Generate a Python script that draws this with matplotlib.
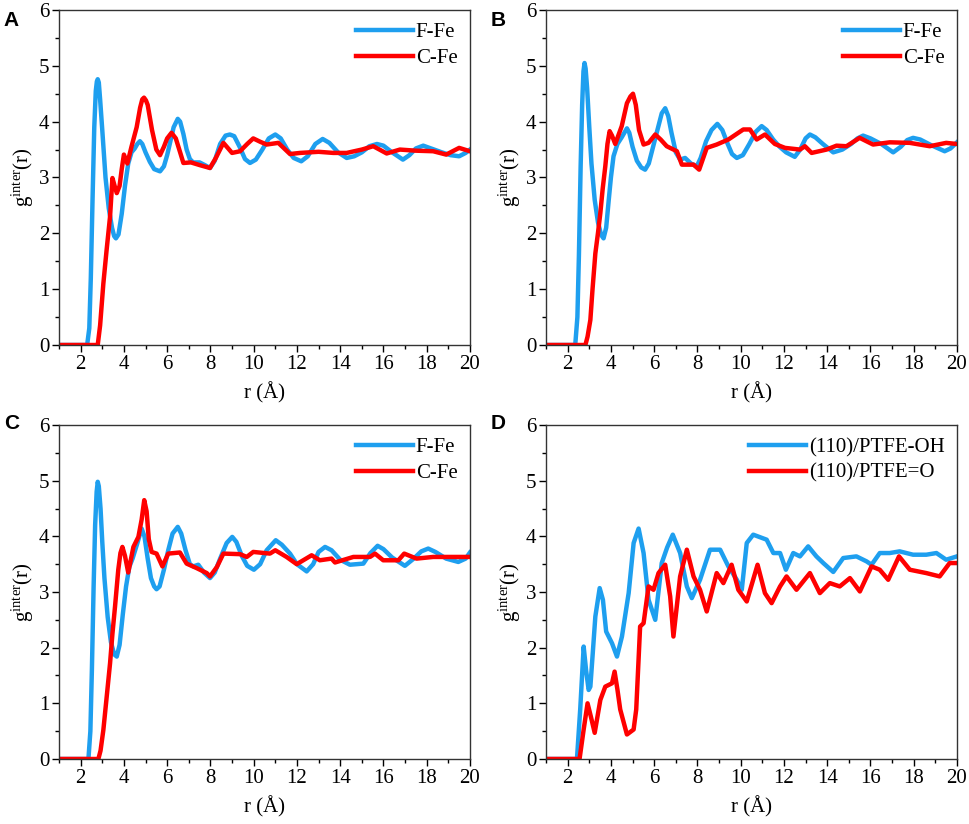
import matplotlib
matplotlib.use("Agg")
import matplotlib.pyplot as plt
from matplotlib.ticker import MultipleLocator

plt.rcParams['font.family'] = ['Liberation Serif', 'DejaVu Serif']
plt.rcParams['mathtext.fontset'] = 'custom'
plt.rcParams['mathtext.rm'] = 'Liberation Serif'
plt.rcParams['mathtext.it'] = 'Liberation Serif:italic'

BLUE = '#1E9FEF'
RED = '#FF0000'

# ---------------- Panel A ----------------
a_ffe_r = [1.0, 2.3, 2.4, 2.47, 2.55, 2.63, 2.7, 2.75, 2.79, 2.84, 2.9, 3.0, 3.15, 3.3, 3.45, 3.55, 3.63,
           3.75, 3.9, 4.05, 4.2, 4.35, 4.5, 4.62, 4.74, 4.85, 5.0, 5.2, 5.4, 5.67, 5.85, 6.0, 6.15, 6.3,
           6.49, 6.6, 6.75, 6.9, 7.05, 7.2, 7.5, 7.75, 7.98, 8.2, 8.45, 8.7, 8.9, 9.1, 9.35, 9.6, 9.83,
           10.1, 10.4, 10.7, 11.0, 11.25, 11.55, 11.85, 12.2, 12.5, 12.85, 13.19, 13.5, 13.9, 14.3, 14.65,
           15.0, 15.35, 15.7, 16.0, 16.4, 16.9, 17.2, 17.5, 17.84, 18.2, 18.7, 19.1, 19.5, 19.8, 20.0]
a_ffe_g = [0.0, 0.0, 0.3, 1.2, 2.6, 3.9, 4.55, 4.72, 4.76, 4.7, 4.4, 3.85, 3.0, 2.45, 2.1, 1.95, 1.91,
           1.98, 2.35, 2.85, 3.25, 3.45, 3.52, 3.6, 3.65, 3.6, 3.45, 3.28, 3.15, 3.11, 3.2, 3.4, 3.65,
           3.9, 4.05, 4.0, 3.78, 3.5, 3.33, 3.27, 3.27, 3.22, 3.17, 3.3, 3.6, 3.75, 3.77, 3.74, 3.55,
           3.33, 3.26, 3.32, 3.5, 3.7, 3.77, 3.7, 3.5, 3.35, 3.29, 3.38, 3.6, 3.69, 3.62, 3.45, 3.35,
           3.38, 3.45, 3.56, 3.6, 3.57, 3.45, 3.32, 3.4, 3.52, 3.57, 3.52, 3.45, 3.4, 3.38, 3.44, 3.5]
a_cfe_r = [1.0, 2.79, 2.9, 3.05, 3.2, 3.36, 3.47, 3.57, 3.67, 3.8, 3.9, 4.0, 4.16, 4.35, 4.59, 4.75, 4.85,
           4.93, 5.02, 5.1, 5.3, 5.5, 5.67, 5.85, 6.0, 6.2, 6.4, 6.6, 6.75, 7.1, 7.52, 7.98, 8.25, 8.6,
           9.0, 9.37, 9.7, 9.98, 10.3, 10.6, 11.14, 11.68, 12.14, 13.0, 13.68, 14.3, 15.0, 15.53, 16.15,
           16.76, 17.5, 18.3, 18.9, 19.5, 20.0]
a_cfe_g = [0.0, 0.0, 0.35, 1.1, 1.7, 2.3, 2.99, 2.85, 2.72, 2.85, 3.15, 3.41, 3.25, 3.55, 3.9, 4.25, 4.4,
           4.43, 4.38, 4.3, 3.85, 3.5, 3.4, 3.55, 3.7, 3.8, 3.7, 3.45, 3.26, 3.27, 3.22, 3.17, 3.35,
           3.62, 3.44, 3.47, 3.6, 3.7, 3.64, 3.59, 3.62, 3.42, 3.44, 3.46, 3.44, 3.44, 3.5, 3.56, 3.43,
           3.5, 3.48, 3.47, 3.41, 3.53, 3.47]

# ---------------- Panel B ----------------
b_ffe_r = [1.0, 2.35, 2.45, 2.52, 2.6, 2.67, 2.73, 2.78, 2.83, 2.9, 3.0, 3.1, 3.25, 3.4, 3.55, 3.66, 3.78,
           3.9, 4.0, 4.12, 4.3, 4.5, 4.74, 4.85, 5.0, 5.2, 5.4, 5.58, 5.75, 5.95, 6.15, 6.35, 6.51, 6.65,
           6.8, 7.0, 7.2, 7.43, 7.7, 7.97, 8.15, 8.4, 8.65, 8.92, 9.15, 9.4, 9.6, 9.82, 10.1, 10.4, 10.7,
           10.97, 11.2, 11.5, 11.8, 12.1, 12.5, 12.75, 13.0, 13.2, 13.45, 13.8, 14.28, 14.7, 15.1, 15.4,
           15.66, 16.0, 16.5, 17.05, 17.4, 17.7, 17.97, 18.3, 18.8, 19.43, 19.7, 20.0]
b_ffe_g = [0.0, 0.0, 0.5, 1.6, 3.2, 4.3, 4.9, 5.05, 4.95, 4.6, 3.9, 3.25, 2.6, 2.2, 1.97, 1.91, 2.1,
           2.6, 3.0, 3.38, 3.6, 3.72, 3.88, 3.8, 3.55, 3.3, 3.18, 3.14, 3.25, 3.55, 3.85, 4.15, 4.24, 4.1,
           3.8, 3.45, 3.32, 3.35, 3.25, 3.2, 3.35, 3.65, 3.85, 3.96, 3.85, 3.6, 3.42, 3.35, 3.4, 3.6,
           3.82, 3.92, 3.85, 3.68, 3.55, 3.45, 3.37, 3.5, 3.7, 3.77, 3.72, 3.6, 3.45, 3.5, 3.6, 3.7,
           3.75, 3.7, 3.6, 3.45, 3.55, 3.67, 3.71, 3.68, 3.58, 3.47, 3.52, 3.63]
b_cfe_r = [1.0, 2.82, 2.92, 3.05, 3.15, 3.28, 3.4, 3.51, 3.62, 3.74, 3.84, 3.94, 4.05, 4.2, 4.5, 4.74,
           4.9, 5.02, 5.15, 5.3, 5.51, 5.74, 6.05, 6.3, 6.58, 7.05, 7.28, 7.82, 8.08, 8.43, 8.89, 9.43,
           10.12, 10.43, 10.74, 11.12, 11.58, 12.05, 12.74, 12.97, 13.28, 13.97, 14.43, 14.89, 15.5,
           16.12, 16.89, 17.82, 18.74, 19.5, 20.0]
b_cfe_g = [0.0, 0.0, 0.15, 0.45, 1.0, 1.64, 2.0, 2.36, 2.8, 3.2, 3.6, 3.83, 3.75, 3.6, 3.92, 4.33,
           4.45, 4.5, 4.3, 3.85, 3.59, 3.62, 3.77, 3.68, 3.56, 3.47, 3.23, 3.23, 3.14, 3.53, 3.59, 3.68,
           3.86, 3.86, 3.68, 3.77, 3.6, 3.53, 3.5, 3.56, 3.44, 3.5, 3.57, 3.56, 3.71, 3.59, 3.63, 3.62,
           3.56, 3.62, 3.6]

# ---------------- Panel C ----------------
c_ffe_r = [1.0, 2.36, 2.45, 2.52, 2.6, 2.67, 2.74, 2.79, 2.84, 2.92, 3.0, 3.1, 3.25, 3.4, 3.55, 3.67,
           3.8, 3.95, 4.1, 4.25, 4.4, 4.6, 4.82, 4.95, 5.1, 5.25, 5.4, 5.51, 5.65, 5.85, 6.05, 6.25, 6.49,
           6.65, 6.85, 7.05, 7.21, 7.44, 7.7, 7.98, 8.2, 8.45, 8.75, 9.01, 9.2, 9.45, 9.7, 10.01, 10.3,
           10.6, 11.02, 11.3, 11.68, 12.0, 12.45, 12.75, 13.0, 13.3, 13.6, 14.0, 14.45, 15.07, 15.4,
           15.73, 16.0, 16.4, 16.99, 17.4, 17.75, 18.07, 18.4, 18.9, 19.46, 19.8, 20.0]
c_ffe_g = [0.0, 0.0, 0.5, 1.6, 3.1, 4.2, 4.8, 4.98, 4.9, 4.5, 3.9, 3.25, 2.55, 2.1, 1.88, 1.84, 2.05,
           2.6, 3.1, 3.45, 3.6, 3.85, 4.14, 4.0, 3.6, 3.25, 3.1, 3.05, 3.1, 3.4, 3.75, 4.05, 4.17, 4.05,
           3.75, 3.5, 3.46, 3.49, 3.35, 3.25, 3.35, 3.6, 3.88, 3.99, 3.9, 3.65, 3.47, 3.4, 3.5, 3.75,
           3.93, 3.85, 3.69, 3.5, 3.37, 3.5, 3.72, 3.81, 3.75, 3.58, 3.49, 3.51, 3.7, 3.83, 3.77, 3.62,
           3.47, 3.6, 3.73, 3.78, 3.72, 3.6, 3.54, 3.6, 3.71]
c_cfe_r = [1.0, 2.82, 2.92, 3.05, 3.2, 3.36, 3.47, 3.59, 3.74, 3.84, 3.93, 4.05, 4.2, 4.44, 4.67, 4.82,
           4.94, 5.05, 5.15, 5.28, 5.51, 5.78, 6.05, 6.59, 6.9, 7.36, 7.83, 7.98, 8.3, 8.6, 9.37, 9.68,
           9.98, 10.75, 11.0, 11.52, 11.99, 12.68, 13.06, 13.6, 13.76, 14.61, 15.38, 15.61, 15.99,
           16.69, 16.96, 17.53, 18.3, 19.07, 20.0]
c_cfe_g = [0.0, 0.0, 0.15, 0.52, 1.1, 1.72, 2.25, 2.74, 3.4, 3.7, 3.81, 3.65, 3.35, 3.81, 3.99, 4.3,
           4.65, 4.45, 3.95, 3.72, 3.69, 3.46, 3.69, 3.71, 3.51, 3.43, 3.34, 3.28, 3.45, 3.69, 3.68, 3.63,
           3.72, 3.69, 3.75, 3.63, 3.5, 3.66, 3.57, 3.6, 3.53, 3.63, 3.63, 3.69, 3.57, 3.57, 3.69, 3.6,
           3.63, 3.63, 3.63]

# ---------------- Panel D ----------------
d_oh_r = [1.0, 2.43, 2.58, 2.74, 2.85, 2.97, 3.05, 3.16, 3.28, 3.48, 3.63, 3.78, 4.05, 4.28, 4.51, 4.82,
          5.05, 5.28, 5.51, 5.74, 6.05, 6.35, 6.6, 6.86, 7.2, 7.51, 7.74, 8.12, 8.58, 9.05, 9.43, 9.82,
          10.05, 10.28, 10.58, 11.2, 11.51, 11.82, 12.09, 12.43, 12.74, 13.12, 13.5, 13.82, 14.28, 14.74,
          15.35, 15.82, 16.05, 16.43, 16.89, 17.35, 17.97, 18.58, 19.05, 19.5, 20.0]
d_oh_g = [0.0, 0.0, 0.89, 2.02, 1.6, 1.24, 1.3, 1.9, 2.56, 3.07, 2.86, 2.29, 2.08, 1.84, 2.2, 2.98,
          3.88, 4.14, 3.7, 2.86, 2.5, 3.52, 3.8, 4.03, 3.7, 3.1, 2.89, 3.22, 3.76, 3.76, 3.46, 3.22,
          3.04, 3.88, 4.03, 3.94, 3.7, 3.7, 3.4, 3.7, 3.64, 3.82, 3.64, 3.52, 3.36, 3.61, 3.64, 3.55,
          3.49, 3.7, 3.7, 3.73, 3.67, 3.67, 3.7, 3.58, 3.64]
d_o_r = [1.0, 2.55, 2.74, 2.92, 3.08, 3.25, 3.51, 3.74, 4.05, 4.17, 4.3, 4.43, 4.74, 5.05, 5.17, 5.35,
         5.51, 5.74, 5.97, 6.2, 6.51, 6.74, 6.89, 7.2, 7.51, 7.82, 8.12, 8.43, 8.89, 9.2, 9.58, 9.89,
         10.28, 10.78, 11.12, 11.43, 11.82, 12.12, 12.58, 13.2, 13.66, 14.12, 14.58, 15.05, 15.51,
         16.05, 16.43, 16.82, 17.32, 17.82, 18.58, 19.2, 19.66, 20.0]
d_o_g = [0.0, 0.0, 0.53, 1.0, 0.75, 0.47, 1.06, 1.3, 1.36, 1.57, 1.25, 0.89, 0.44, 0.53, 0.89, 2.38,
         2.44, 3.1, 3.04, 3.34, 3.49, 2.92, 2.2, 3.28, 3.76, 3.28, 3.04, 2.65, 3.34, 3.16, 3.49, 3.04,
         2.83, 3.49, 2.98, 2.8, 3.1, 3.28, 3.04, 3.34, 2.98, 3.16, 3.1, 3.25, 3.01, 3.46, 3.4, 3.22,
         3.64, 3.4, 3.34, 3.28, 3.52, 3.52]

panels = [
    ('A', a_ffe_r, a_ffe_g, a_cfe_r, a_cfe_g, 'F-Fe', 'C-Fe'),
    ('B', b_ffe_r, b_ffe_g, b_cfe_r, b_cfe_g, 'F-Fe', 'C-Fe'),
    ('C', c_ffe_r, c_ffe_g, c_cfe_r, c_cfe_g, 'F-Fe', 'C-Fe'),
    ('D', d_oh_r, d_oh_g, d_o_r, d_o_g, '(110)/PTFE-OH', '(110)/PTFE=O'),
]

fig = plt.figure(figsize=(9.69, 8.24), dpi=100)
positions = [
    [0.0609, 0.5813, 0.4241, 0.4066],
    [0.5635, 0.5813, 0.4241, 0.4066],
    [0.0609, 0.0789, 0.4241, 0.4053],
    [0.5635, 0.0789, 0.4241, 0.4053],
]
label_pos = [(0.004, 0.987), (0.506, 0.987), (0.004, 0.497), (0.506, 0.497)]

for (lab, r1, g1, r2, g2, n1, n2), pos, lp in zip(panels, positions, label_pos):
    ax = fig.add_axes(pos)
    ax.plot(r1, g1, color=BLUE, lw=3.2, label=n1, solid_joinstyle='round')
    ax.plot(r2, g2, color=RED, lw=3.2, label=n2, solid_joinstyle='round')
    ax.set_xlim(1, 20)
    ax.set_ylim(0, 6)
    ax.xaxis.set_major_locator(MultipleLocator(2))
    ax.xaxis.set_minor_locator(MultipleLocator(1))
    ax.yaxis.set_major_locator(MultipleLocator(1))
    ax.yaxis.set_minor_locator(MultipleLocator(0.5))
    ax.tick_params(which='major', direction='out', length=5, width=1, labelsize=15, pad=2)
    ax.tick_params(which='minor', direction='out', length=3, width=1)
    for s in ax.spines.values():
        s.set_linewidth(1.0)
        s.set_color('#333333')
    ax.set_xlabel('r (Å)', fontsize=15, labelpad=6)
    ax.set_ylabel(r'$\mathregular{g^{inter}(r)}$', fontsize=15, labelpad=2)
    ax.legend(loc='upper right', frameon=False, fontsize=15, handlelength=2.7,
              handletextpad=0.15, borderaxespad=0.2, labelspacing=0.3)
    fig.text(lp[0], lp[1], lab, fontsize=15, fontweight='bold', va='top', ha='left',
             family=['Liberation Sans', 'DejaVu Sans'])

fig.savefig('out.png', dpi=100)
